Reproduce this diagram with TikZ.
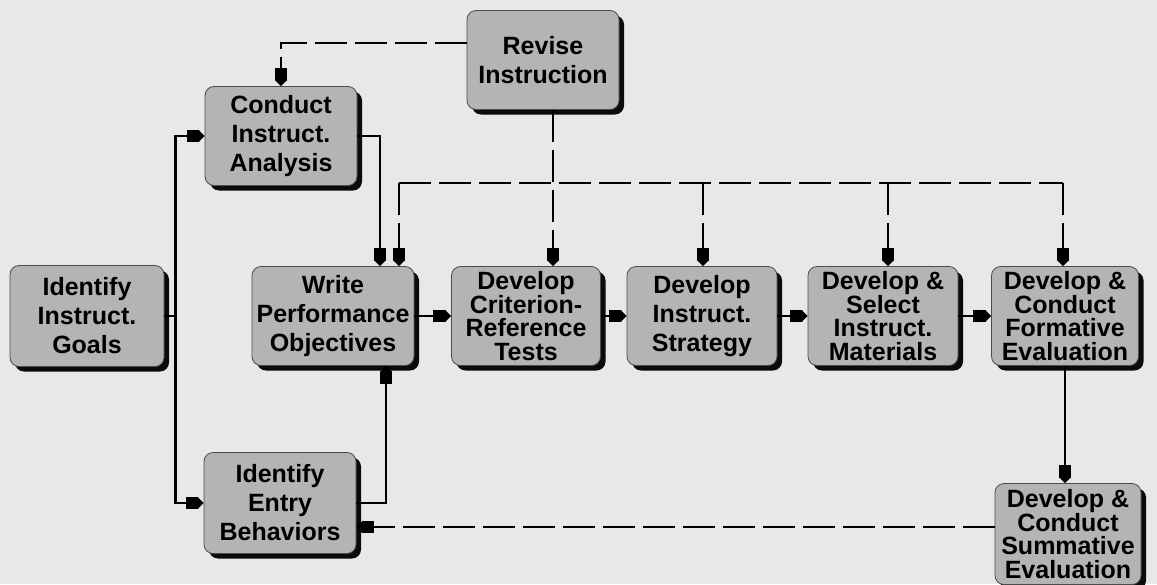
\documentclass[tikz,border=0pt]{standalone}
\usepackage{fontspec}
\setmainfont{Liberation Sans}
\usetikzlibrary{arrows.meta,shadows}
\definecolor{bggray}{HTML}{E8E8E8}
\definecolor{boxgray}{HTML}{B4B4B4}

\begin{document}
\begin{tikzpicture}[x=1pt,y=-1pt,
    stepbox/.style={draw=black!70, line width=0.8pt, fill=boxgray, rounded corners=9pt,
      drop shadow={shadow xshift=5pt, shadow yshift=-5pt, fill=black, opacity=0.95},
      inner sep=0pt, align=center, font=\bfseries\fontsize{25}{29}\selectfont,
      minimum width=152pt, minimum height=99pt},
    tallbox/.style={stepbox, font=\bfseries\fontsize{25}{23.5}\selectfont},
    wire/.style={line width=2.4pt},
    arr/.style={-{Rectangle[length=12pt,width=12pt,sep=0pt]Triangle[length=6pt,width=12pt,sep=0pt]}},
    fbline/.style={wire, dash pattern=on 32pt off 8pt}]

  \fill[bggray] (0,0) rectangle (1157,584);
  \useasboundingbox (0,0) rectangle (1157,584);

  % boxes
  \node[stepbox, minimum width=154pt, minimum height=101pt] (goals) at (87,316) {Identify\\Instruct.\\Goals};
  \node[stepbox] (conduct) at (281,136) {Conduct\\Instruct.\\Analysis};
  \node[stepbox] (revise) at (543,60) {Revise\\Instruction};
  \node[stepbox, minimum width=162pt] (write) at (333,316) {Write\\Performance\\Objectives};
  \node[tallbox, minimum width=149pt] (criterion) at (526,316) {Develop\\Criterion-\\Reference\\Tests};
  \node[stepbox, minimum width=150pt] (strategy) at (702,316) {Develop\\Instruct.\\Strategy};
  \node[tallbox, minimum width=150pt] (materials) at (883,316) {Develop \&\\Select\\Instruct.\\Materials};
  \node[tallbox, minimum width=147pt] (formative) at (1065,316) {Develop \&\\Conduct\\Formative\\Evaluation};
  \node[stepbox, minimum height=101pt] (entry) at (280,503) {Identify\\Entry\\Behaviors};
  \node[tallbox, minimum width=146pt, minimum height=101pt] (summative) at (1068,534) {Develop \&\\Conduct\\Summative\\Evaluation};

  % forward flow
  \draw[wire] (goals.east) -- ++(11,0) coordinate (split);
  \draw[wire,arr] (split) |- (conduct.west);
  \draw[wire,arr] (split) |- (entry.west);
  \draw[wire,arr] (conduct.east) -| ([xshift=47pt]write.north);
  \draw[wire,arr] (entry.east) -| ([xshift=53pt]write.south);
  \draw[wire,arr] (write) -- (criterion);
  \draw[wire,arr] (criterion) -- (strategy);
  \draw[wire,arr] (strategy) -- (materials);
  \draw[wire,arr] (materials) -- (formative);
  \draw[wire,arr] (formative.south) -- (formative.south |- summative.north);

  % revision loops
  \draw[fbline,arr] ([yshift=17pt]revise.west) -| (conduct.north);
  \coordinate (rv) at (553,0);
  \draw[fbline,arr] (revise.south -| rv) -- (criterion.north -| rv);
  \coordinate (busw) at (399,183);
  \coordinate (buse) at (1063,183);
  \draw[fbline] (busw) -- (buse);
  \foreach \n/\x in {write/399, strategy/703, materials/888, formative/1063}{
    \coordinate (d\n) at (\x,183);
    \draw[fbline,arr] (d\n) -- (\n.north -| d\n);
  }
  \draw[fbline,arr] ([yshift=7pt]summative.west) -- ([yshift=7pt]summative.west -| entry.east);
\end{tikzpicture}
\end{document}
